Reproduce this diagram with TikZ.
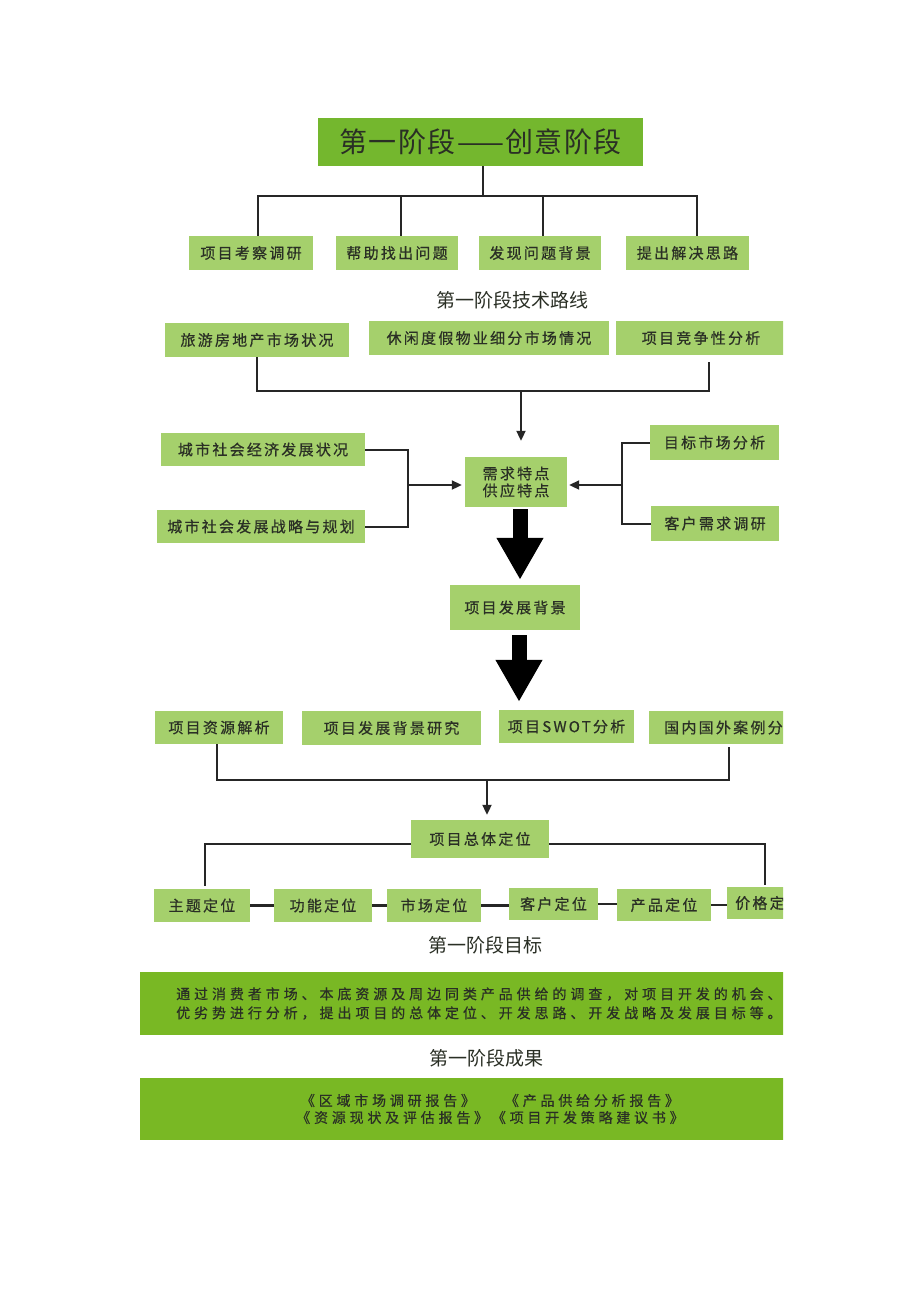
\documentclass[tikz,border=0pt]{standalone}
\usepackage{fontspec}
\setmainfont{Noto Sans CJK SC}
\newfontfamily\cjk{Noto Sans CJK SC}
\newfontfamily\cjktitle[LetterSpace=5]{Noto Sans CJK SC}
\newfontfamily\cjksp[LetterSpace=15,FakeBold=0.6]{Noto Sans CJK SC}
\newfontfamily\cjkwide[LetterSpace=28,FakeBold=0.5]{Noto Sans CJK SC}
\newfontfamily\cjkres[LetterSpace=27,FakeBold=0.5]{Noto Sans CJK SC}
\usetikzlibrary{arrows.meta,calc}
\definecolor{darkg}{HTML}{74B72E}
\definecolor{lightg}{HTML}{A5D06C}
\definecolor{bang}{HTML}{79B824}
\definecolor{txt}{HTML}{2A2F25}
\tikzset{
  gbox/.style={fill=lightg, inner sep=0pt, text=txt, font=\cjksp\fontsize{15}{18}\selectfont},
  conn/.style={line width=2pt, draw=black!85},
  pconn/.style={line width=2.8pt, draw=black!85},
  arr/.style={conn, -{Triangle[length=10pt,width=9pt]}},
  bigarrow/.style={line width=15pt, -{Triangle[length=42pt,width=44pt]}},
  heading/.style={text=txt, font=\cjk\fontsize{19}{22}\selectfont, inner sep=0pt},
}
\begin{document}
\begin{tikzpicture}[x=1pt,y=-1pt]
\useasboundingbox[fill=white] (0,0) rectangle (920,1302);
\begin{scope}
\clip (0,0) rectangle (783,1302);
% title
\node[fill=darkg, minimum width=325pt, minimum height=48pt, inner sep=0pt, text=txt,
  font=\cjktitle\fontsize{28}{32}\selectfont] (title) at (480.5,142) {第一阶段——创意阶段};
% row 1
\node[gbox, minimum width=124pt, minimum height=34pt] (b1) at (251,253) {项目考察调研};
\node[gbox, minimum width=122pt, minimum height=34pt] (b2) at (397,253) {帮助找出问题};
\node[gbox, minimum width=122pt, minimum height=34pt] (b3) at (540,253) {发现问题背景};
\node[gbox, minimum width=123pt, minimum height=34pt] (b4) at (687.5,253) {提出解决思路};
\coordinate (bus1) at (483,196);
\draw[conn] ([xshift=2.5pt]title.south) -- ([xshift=2.5pt]title.south |- bus1);
\draw[conn] ([xshift=7pt]b1.north) |- (bus1);
\draw[conn] ([xshift=4pt]b2.north) |- (bus1);
\draw[conn] ([xshift=3pt]b3.north) |- (bus1);
\draw[conn] ([xshift=9pt]b4.north) |- (bus1);
\node[heading] (h1) at (512,300) {第一阶段技术路线};
% row 2
\node[gbox, minimum width=184pt, minimum height=34pt] (r1) at (257,340) {旅游房地产市场状况};
\node[gbox, minimum width=240pt, minimum height=34pt] (r2) at (489,338) {休闲度假物业细分市场情况};
\node[gbox, minimum width=170pt, minimum height=34pt] (r3) at (701,338) {项目竞争性分析};
\node[gbox, minimum width=102pt, minimum height=50pt, align=center,
  font=\cjksp\fontsize{15}{17}\selectfont] (need) at (516,482) {需求特点\\供应特点};
\coordinate (bus2) at (521,391);
\draw[conn] (r1.south) |- (bus2);
\draw[conn] ([xshift=8pt,yshift=-7pt]r3.south) |- (bus2);
\draw[arr] (bus2) -- ([xshift=5pt,yshift=16pt]need.north);
% left inputs
\node[gbox, minimum width=204pt, minimum height=33pt] (L1) at (263,449.5) {城市社会经济发展状况};
\node[gbox, minimum width=208pt, minimum height=33pt] (L2) at (261,526.5) {城市社会发展战略与规划};
\coordinate (lbus) at (408,485);
\draw[conn] (L1.east) -| (lbus);
\draw[conn] (L2.east) -| (lbus);
\draw[arr] (lbus) -- ([xshift=-3pt]need.west |- lbus);
% right inputs
\node[gbox, minimum width=129pt, minimum height=35pt] (R1) at (714.5,442.5) {目标市场分析};
\node[gbox, minimum width=128pt, minimum height=35pt] (R2) at (715,523.5) {客户需求调研};
\coordinate (rbus) at (622,485);
\draw[conn] (R1.west) -| (rbus);
\draw[conn] (R2.west) -| (rbus);
\draw[arr] (rbus) -- ([xshift=2pt]need.east |- rbus);
% project background
\node[gbox, minimum width=130pt, minimum height=45pt] (bg) at (515,607.5) {项目发展背景};
\draw[bigarrow] ([xshift=4pt,yshift=-2pt]need.south) -- ([xshift=4pt,yshift=5pt]need.south |- bg.north);
% row 4
\node[gbox, minimum width=128pt, minimum height=33pt] (s1) at (219,727.5) {项目资源解析};
\node[gbox, minimum width=179pt, minimum height=34pt] (s2) at (391.5,728) {项目发展背景研究};
\node[gbox, minimum width=135pt, minimum height=33pt] (s3) at (566.5,726.5) {项目SWOT分析};
\node[gbox, minimum height=33pt, inner xsep=15pt, anchor=west] (s4) at (649,727.5) {国内国外案例分};
\draw[bigarrow] ([xshift=4pt,yshift=-5pt]bg.south) -- ([xshift=4pt,yshift=8pt]bg.south |- s3.north);
\coordinate (bus4) at (487,780);
\draw[conn] ([xshift=-2pt]s1.south) |- (bus4);
\draw[conn] ([xshift=6pt,yshift=-3pt]s4.south) |- (bus4);
% overall positioning
\node[gbox, minimum width=138pt, minimum height=38pt] (tot) at (480,839) {项目总体定位};
\draw[arr] (bus4) -- ([yshift=5pt]bus4 |- tot.north);
% row 5
\node[gbox, minimum width=96pt, minimum height=33pt] (p1) at (202,905.5) {主题定位};
\node[gbox, minimum width=98pt, minimum height=33pt] (p2) at (323,905.5) {功能定位};
\node[gbox, minimum width=94pt, minimum height=33pt] (p3) at (434,905.5) {市场定位};
\node[gbox, minimum width=89pt, minimum height=32pt] (p4) at (553.5,904) {客户定位};
\node[gbox, minimum width=94pt, minimum height=32pt] (p5) at (664,905) {产品定位};
\node[gbox, minimum height=32pt, inner xsep=8pt, anchor=west] (p6) at (727,903) {价格定};
\draw[conn] ([yshift=-5pt]tot.west) -| ([xshift=3pt,yshift=3pt]p1.north);
\draw[conn] ([yshift=-5pt]tot.east) -| ([xshift=5pt,yshift=2pt]p6.north);
\draw[pconn] (p1.east) -- (p2.west |- p1.east);
\draw[pconn] (p2.east) -- (p3.west |- p2.east);
\draw[pconn] (p3.east) -- (p4.west |- p3.east);
\draw[pconn] (p4.east) -- (p5.west |- p4.east);
\draw[pconn] (p5.east) -- (p6.west |- p5.east);
% goals
\node[heading] (h2) at (485,945) {第一阶段目标};
\node[fill=bang, minimum height=63pt, text width=640pt, inner xsep=36pt, inner ysep=0pt,
  anchor=west, align=left, text=txt, font=\cjkwide\fontsize{14}{19}\selectfont] (goal) at (140,1003.5)
  {通过消费者市场、本底资源及周边同类产品供给的调查，对项目开发的机会、\\优劣势进行分析，提出项目的总体定位、开发思路、开发战略及发展目标等。};
\node[heading] (h3) at (486,1058) {第一阶段成果};
\node[fill=bang, minimum height=62pt, minimum width=700pt, inner sep=0pt, align=center,
  text=txt, font=\cjkres\fontsize{14}{17}\selectfont] (res) at (490,1109)
  {《区域市场调研报告》\hspace{30pt}《产品供给分析报告》\\《资源现状及评估报告》《项目开发策略建议书》};
\end{scope}
\end{tikzpicture}
\end{document}
